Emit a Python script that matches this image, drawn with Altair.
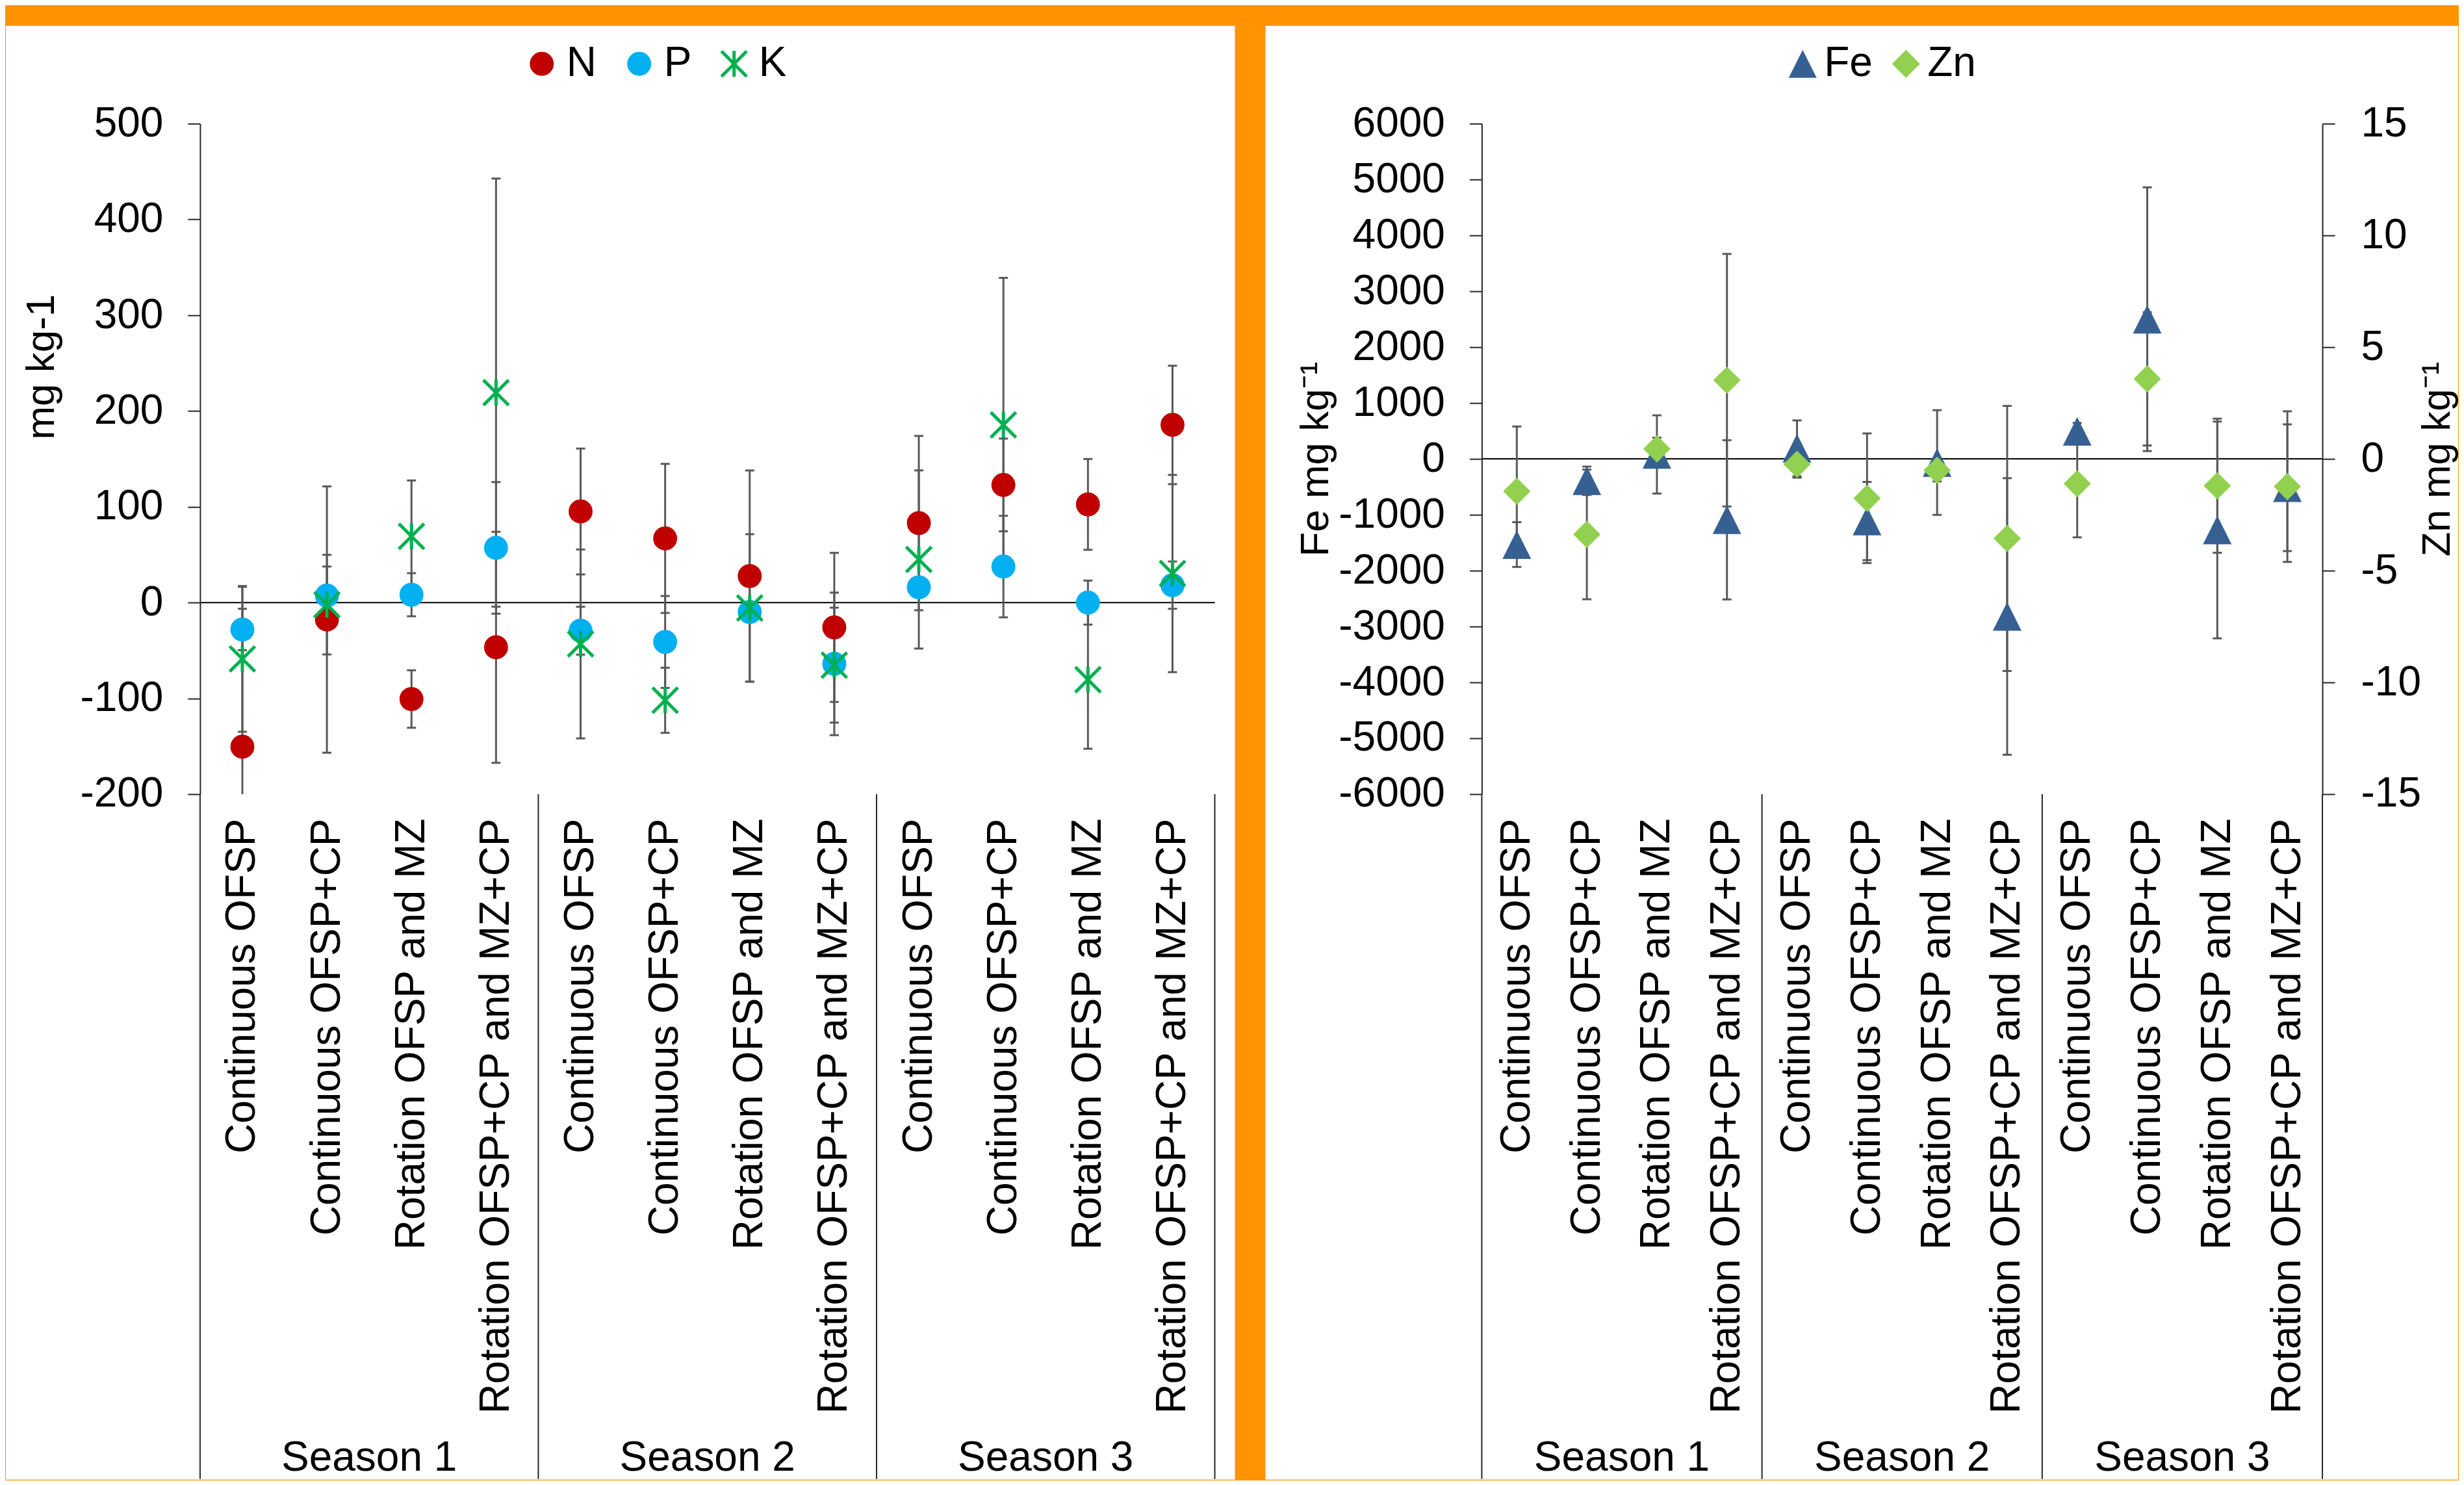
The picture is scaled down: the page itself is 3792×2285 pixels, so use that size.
import json
import altair as alt
import pandas as pd

# ---------------- data ----------------
treatments = ["Continuous OFSP", "Continuous OFSP+CP", "Rotation OFSP and MZ",
              "Rotation OFSP+CP and MZ+CP"]
seasons = ["Season 1", "Season 2", "Season 3"]
tick_labels = treatments * len(seasons)
positions = list(range(1, len(tick_labels) + 1))

n_mean = [-150.5, -17.7, -100.7, -46.7, 95.1, 67.0, 27.7, -25.9, 83.0, 122.8, 102.5, 185.5]
n_err = [167.0, 139.0, 30.0, 120.6, 65.7, 77.8, 110.2, 77.8, 91.0, 48.4, 47.4, 61.8]
p_mean = [-28.1, 7.3, 8.2, 57.1, -29.4, -41.1, -9.9, -64.0, 16.0, 37.6, 0.0, 18.2]
p_err = [21.6, 30.3, 22.5, 68.7, 25.0, 48.0, 10.0, 74.4, 10.0, 53.0, 23.0, 24.6]
k_mean = [-58.8, -2.2, 69.2, 219.2, -43.2, -102.0, -5.6, -65.3, 45.0, 185.5, -80.4, 30.3]
k_err = [76.0, 52.0, 58.3, 223.5, 98.6, 34.0, 77.0, 60.0, 93.0, 153.5, 72.2, 103.0]

fe_mean = [-1533, -392, 80, -1090, 189, -1112, -65, -2820, 494, 2500, -1272, -516]
fe_err = [400, 254, 700, 1425, 500, 700, 937, 2475, 150, 2360, 1940, 1134]
zn_mean = [-1.45, -3.38, 0.45, 3.52, -0.24, -1.76, -0.51, -3.56, -1.11, 3.58, -1.2, -1.24]
zn_err = [2.9, 2.9, 0.5, 5.65, 0.6, 2.9, 0.5, 5.93, 2.4, 2.98, 3.0, 3.37]

left_ticks = [-200, -100, 0, 100, 200, 300, 400, 500]
fe_ticks = [-6000, -5000, -4000, -3000, -2000, -1000, 0, 1000, 2000, 3000, 4000, 5000, 6000]
zn_ticks = [-15, -10, -5, 0, 5, 10, 15]

# ---------------- style ----------------
FONT = "Liberation Sans"
FS = 64
AX = "#262626"
ERR = "#595959"
ORANGE = "#FF9400"
W1, W2, H = 1562, 1294, 1032
TOP_EXT = 150.6
BOTTOM_REL = 2087
SEASON_Y = 2073
K_PATH = "M-1.22,-1.22L1.22,1.22M-1.22,1.22L1.22,-1.22M0,-1.25L0,1.25"
TRI_PATH = "M0,-1L1,1L-1,1Z"


def frame(series_list):
    rows = []
    for name, means, errs in series_list:
        for pos, m, e in zip(positions, means, errs):
            rows.append({"pos": pos, "series": name, "value": m, "lo": m - e, "hi": m + e})
    return pd.DataFrame(rows)


n_t = len(treatments)
sep_df = pd.DataFrame({"sep": [0.5 + n_t * i for i in range(len(seasons) + 1)]})
season_df = pd.DataFrame({"mid": [n_t * i + (n_t + 1) / 2 for i in range(len(seasons))],
                          "season": seasons})
zero_df = pd.DataFrame({"zero": [0]})
one_df = pd.DataFrame({"a": [0]})

x_scale = alt.Scale(domain=[0.5, len(tick_labels) + 0.5], nice=False, zero=False)
x_axis = alt.Axis(values=positions, labelExpr=json.dumps(tick_labels) + "[datum.value - 1]",
                  labelAngle=-90, labelAlign="right", labelBaseline="middle", labelPadding=37,
                  labelFontSize=FS, labelFont=FONT, labelColor="black", labelLimit=3000,
                  labelOverlap=False, labelFlush=False, domain=False, ticks=False, tickSize=0,
                  grid=False, title=None, zindex=1)


def y_axis(values, title, orient, title_x, title_y, pad):
    return alt.Axis(orient=orient, values=values, labelExpr="'' + datum.value", tickSize=19,
                    tickWidth=2, tickColor=AX, domainColor=AX, domainWidth=2, labelPadding=pad,
                    labelFontSize=FS, labelFont=FONT, labelColor="black", labelFlush=False,
                    labelOverlap=False, grid=False, title=title, titleFont=FONT, titleFontSize=62,
                    titleFontWeight="normal", titleColor="black", titleAngle=270, titleX=title_x,
                    titleY=title_y, titleAlign="center", titleBaseline="middle", zindex=1)


def legend(x, y, col_pad, lab_off, sym_size, sym_stroke):
    return alt.Legend(title=None, orient="none", legendX=x, legendY=y, direction="horizontal",
                      labelFont=FONT, labelFontSize=FS, labelColor="black", symbolSize=sym_size,
                      symbolStrokeWidth=sym_stroke, columnPadding=col_pad, labelOffset=lab_off,
                      padding=0, zindex=1, symbolOpacity=1)


def base_layers(rect_x, rect_x2, y_scale):
    rect = alt.Chart(one_df).mark_rect(fill="white", strokeWidth=0).encode(
        x=alt.value(rect_x), x2=alt.value(rect_x2), y=alt.value(-TOP_EXT), y2=alt.value(BOTTOM_REL))
    seps = alt.Chart(sep_df).mark_rule(color=AX, strokeWidth=2).encode(
        x=alt.X("sep:Q", scale=x_scale, axis=x_axis), y=alt.value(H), y2=alt.value(BOTTOM_REL - 1))
    stext = alt.Chart(season_df).mark_text(font=FONT, fontSize=FS, color="black", align="center",
                                           baseline="alphabetic").encode(
        x=alt.X("mid:Q", scale=x_scale, axis=x_axis), y=alt.value(SEASON_Y), text="season:N")
    zero = alt.Chart(zero_df).mark_rule(color="black", strokeWidth=2).encode(
        y=alt.Y("zero:Q", scale=y_scale, axis=None))
    return [rect, seps, stext, zero]


def err_layers(df, y_scale):
    bar = alt.Chart(df).mark_rule(color=ERR, strokeWidth=3, clip=True).encode(
        x=alt.X("pos:Q", scale=x_scale, axis=x_axis),
        y=alt.Y("lo:Q", scale=y_scale, axis=None), y2="hi:Q")
    caps = [alt.Chart(df).mark_rule(color=ERR, strokeWidth=3, clip=True, xOffset=-7, x2Offset=7).encode(
        x=alt.X("pos:Q", scale=x_scale, axis=x_axis), x2="pos:Q",
        y=alt.Y(c + ":Q", scale=y_scale, axis=None)) for c in ("lo", "hi")]
    return [bar] + caps


# ---------------- left panel ----------------
left_df = frame([("N", n_mean, n_err), ("P", p_mean, p_err), ("K", k_mean, k_err)])
left_y = alt.Scale(domain=[-200, 500], nice=False, zero=False)
left_color = alt.Scale(domain=["N", "P", "K"], range=["#C00000", "#00B0F0", "#00B050"])
left_shape = alt.Scale(domain=["N", "P", "K"], range=["circle", "circle", K_PATH])
leg_l = legend(494, -124, 33, 6, 1018, 5)

left_pts = alt.Chart(left_df).mark_point(filled=True, opacity=1, size=1018, strokeWidth=5).encode(
    x=alt.X("pos:Q", scale=x_scale, axis=x_axis),
    y=alt.Y("value:Q", scale=left_y, axis=y_axis(left_ticks, "mg kg-1", "left", -244, 374, 38)),
    fill=alt.Fill("series:N", scale=left_color, legend=leg_l),
    stroke=alt.Stroke("series:N", scale=left_color, legend=leg_l),
    shape=alt.Shape("series:N", scale=left_shape, legend=leg_l),
)

left = alt.layer(*base_layers(-299, 1593, left_y), *err_layers(left_df, left_y), left_pts).resolve_scale(
    y="independent").properties(width=W1, height=H)

# ---------------- right panel ----------------
fe_df = frame([("Fe", fe_mean, fe_err)])
zn_df = frame([("Zn", zn_mean, zn_err)])
fe_y = alt.Scale(domain=[-6000, 6000], nice=False, zero=False)
zn_y = alt.Scale(domain=[-15, 15], nice=False, zero=False)
right_color = alt.Scale(domain=["Fe", "Zn"], range=["#376092", "#92D050"])
right_shape = alt.Scale(domain=["Fe", "Zn"], range=[TRI_PATH, "diamond"])
leg_r = legend(462, -124, 19, 1, 1850, 0)

fe_pts = alt.Chart(fe_df).mark_point(filled=True, opacity=1, size=1936, strokeWidth=0).encode(
    x=alt.X("pos:Q", scale=x_scale, axis=x_axis),
    y=alt.Y("value:Q", scale=fe_y, axis=y_axis(fe_ticks, "Fe mg kg\u207b\u00b9", "left", -256, 516, 38)),
    color=alt.Color("series:N", scale=right_color, legend=leg_r),
    shape=alt.Shape("series:N", scale=right_shape, legend=leg_r),
)
zn_pts = alt.Chart(zn_df).mark_point(filled=True, opacity=1, size=1764, strokeWidth=0).encode(
    x=alt.X("pos:Q", scale=x_scale, axis=x_axis),
    y=alt.Y("value:Q", scale=zn_y, axis=y_axis(zn_ticks, "Zn mg kg\u207b\u00b9", "right", 176, 516, 40)),
    color=alt.Color("series:N", scale=right_color, legend=leg_r),
    shape=alt.Shape("series:N", scale=right_shape, legend=leg_r),
)

right = alt.layer(*base_layers(-333, 1503, fe_y), *err_layers(fe_df, fe_y), *err_layers(zn_df, zn_y),
                  fe_pts, zn_pts).resolve_scale(y="independent").properties(width=W2, height=H)

chart = alt.hconcat(left, right, spacing=45).resolve_scale(
    color="independent", fill="independent", stroke="independent", shape="independent"
).resolve_legend(
    color="independent", fill="independent", stroke="independent", shape="independent"
).properties(
    background=ORANGE, padding={"left": 0, "top": 30, "right": 0, "bottom": 0}
).configure_view(stroke="transparent").configure(font=FONT)

chart.save("out.html", embed_options={"renderer": "svg", "actions": False})
